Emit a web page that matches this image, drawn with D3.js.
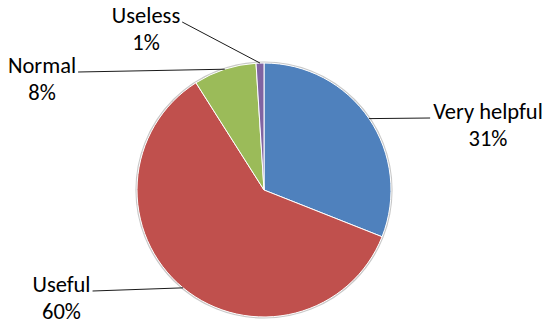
<!DOCTYPE html>
<html>
<head>
<meta charset="utf-8">
<script src="https://cdn.jsdelivr.net/npm/d3@7"></script>
<style>
  html, body { margin: 0; padding: 0; background: #fff; }
  svg { display: block; }
  text { font-family: Carlito, Calibri, Lato, sans-serif; font-size: 22.5px; fill: #000; }
</style>
</head>
<body>
<svg id="chart" width="547" height="327"></svg>
<script>
// Survey answers, clockwise from 12 o'clock
const categories = ["Very helpful", "Useful", "Normal", "Useless"];
const percents = [31, 60, 8, 1];
const colors = ["#4F81BD", "#C0504D", "#9BBB59", "#8064A2"];

// Where each label block sits (centre x, first baseline) and which side the leader meets it
const labelLayout = [
  { cx: 488, y: 119, side: "left" },
  { cx: 61.5, y: 292, side: "right" },
  { cx: 42, y: 73, side: "right" },
  { cx: 146, y: 23, side: "right" }
];

const width = 547, height = 327;
const cx = 264, cy = 190, radius = 127;
const lineGap = 27;

const svg = d3.select("#chart");
const g = svg.append("g").attr("transform", `translate(${cx},${cy})`);

const data = categories.map((c, i) => ({ name: c, value: percents[i], color: colors[i], layout: labelLayout[i] }));

const pie = d3.pie().sort(null).value(d => d.value);
const arc = d3.arc().innerRadius(0).outerRadius(radius);
const arcs = pie(data);

// thin grey rim around the pie
g.append("circle")
  .attr("r", radius + 0.8)
  .attr("fill", "none")
  .attr("stroke", "#c8c8c8")
  .attr("stroke-width", 1.6);

g.selectAll("path.slice")
  .data(arcs)
  .enter().append("path")
  .attr("class", "slice")
  .attr("d", arc)
  .attr("fill", d => d.data.color)
  .attr("stroke", "#fff")
  .attr("stroke-width", 1)
  .attr("stroke-linejoin", "round");

// leader lines and labels
const labels = svg.append("g");
arcs.forEach(d => {
  const mid = (d.startAngle + d.endAngle) / 2;
  const px = cx + radius * Math.sin(mid);
  const py = cy - radius * Math.cos(mid);
  const L = d.data.layout;

  const t1 = labels.append("text")
    .attr("x", L.cx).attr("y", L.y)
    .attr("text-anchor", "middle")
    .text(d.data.name);
  labels.append("text")
    .attr("x", L.cx).attr("y", L.y + lineGap)
    .attr("text-anchor", "middle")
    .text(d.data.value + "%");

  const w = t1.node().getComputedTextLength();
  const ex = L.side === "left" ? L.cx - w / 2 - 3 : L.cx + w / 2 + 2;
  const ey = L.y - 1;

  labels.append("line")
    .attr("x1", px).attr("y1", py)
    .attr("x2", ex).attr("y2", ey)
    .attr("stroke", "#1a1a1a")
    .attr("stroke-width", 1);
});
</script>
</body>
</html>
